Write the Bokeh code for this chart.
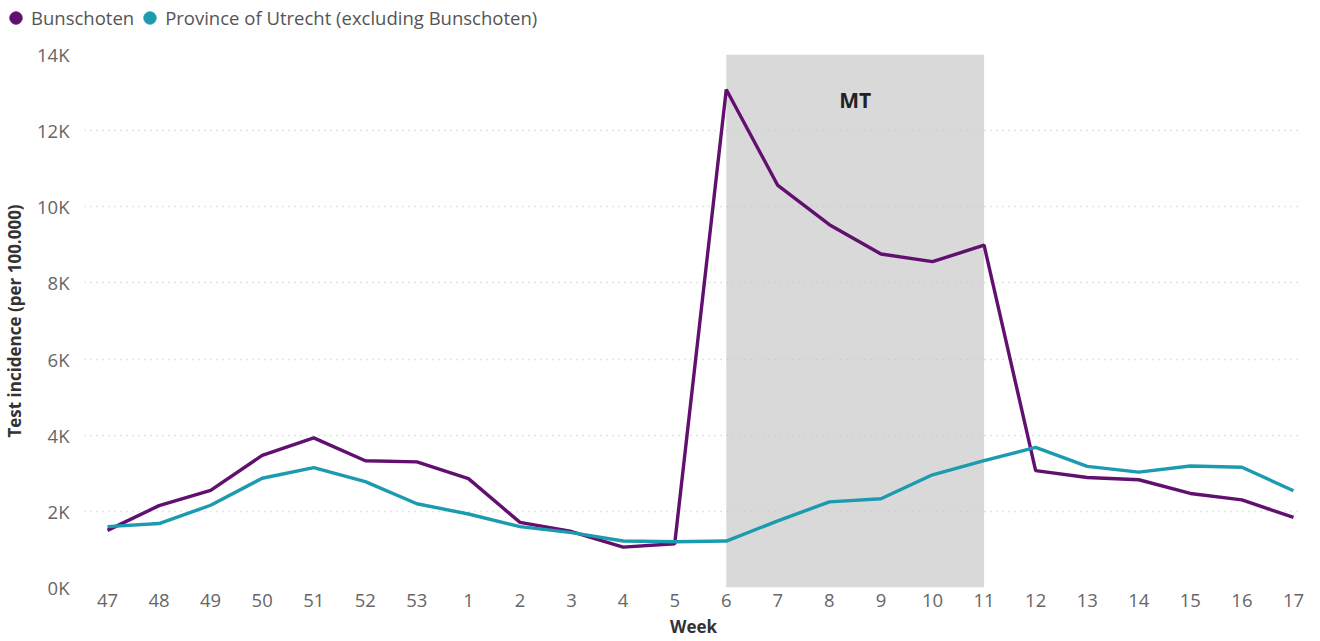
from bokeh.plotting import figure
from bokeh.models import (Range1d, Legend, LegendItem, Label, FixedTicker,
                          ColumnDataSource, CustomJSTickFormatter)
from bokeh.embed import file_html
from bokeh.resources import INLINE

weeks = ["47", "48", "49", "50", "51", "52", "53", "1", "2", "3", "4", "5",
         "6", "7", "8", "9", "10", "11", "12", "13", "14", "15", "16", "17"]
bunschoten = [1500, 2150, 2550, 3470, 3930, 3330, 3300, 2860, 1710, 1470, 1060, 1150,
              13080, 10560, 9530, 8760, 8560, 8990, 3070, 2890, 2830, 2470, 2300, 1840]
utrecht = [1600, 1680, 2160, 2870, 3150, 2780, 2200, 1930, 1600, 1440, 1220, 1200,
           1220, 1750, 2250, 2330, 2960, 3330, 3680, 3180, 3030, 3190, 3160, 2540]
series_names = ["Bunschoten", "Province of Utrecht (excluding Bunschoten)"]
mt_start, mt_end = "6", "11"
mt_label = "MT"
y_ticks = [0, 2000, 4000, 6000, 8000, 10000, 12000, 14000]

FONT = "Open Sans"
PURPLE = "#62106f"
TEAL = "#1c9bb0"

W = 1304
LEG_H = 36
H = 605
BL, BR, BT, BB = 78, 2, 18, 54

idx = list(range(len(weeks)))
x0 = weeks.index(mt_start)
x1 = weeks.index(mt_end)
src = ColumnDataSource(dict(x=idx, b=bunschoten, u=utrecht))

# ---- legend strip (separate root, so its frame is not aligned to the chart) ----
lg = figure(width=W, height=LEG_H, output_backend="svg", toolbar_location=None,
            x_range=Range1d(0, 1), y_range=Range1d(0, 1),
            x_axis_location=None, y_axis_location=None,
            min_border=0, outline_line_color=None)
lg.grid.visible = False
lb = lg.scatter("x", "b", source=src, size=11, color=PURPLE, marker="circle", visible=False)
lu = lg.scatter("x", "u", source=src, size=11, color=TEAL, marker="circle", visible=False)
legend = Legend(items=[LegendItem(label=series_names[0], renderers=[lb]),
                       LegendItem(label=series_names[1], renderers=[lu])],
                orientation="horizontal", location=(0, 3),
                label_text_font=FONT, label_text_font_size="18.5px", label_text_color="#555555",
                glyph_width=31, glyph_height=31, label_standoff=-6, spacing=0,
                padding=0, margin=0, border_line_color=None, background_fill_alpha=0,
                inactive_fill_alpha=0, label_height=20)
lg.add_layout(legend, "center")

# ---- main chart ----
p = figure(width=W, height=H, output_backend="svg", toolbar_location=None,
           x_range=Range1d(-0.446, 23.175), y_range=Range1d(0, 14000),
           min_border_left=BL, min_border_right=BR, min_border_top=BT,
           min_border_bottom=BB, outline_line_color=None)

p.quad(left=[x0], right=[x1], bottom=[y_ticks[0]], top=[y_ticks[-1]],
       fill_color="#d9d9d9", line_color=None, level="image")

p.line("x", "b", source=src, color=PURPLE, line_width=3.4)
p.line("x", "u", source=src, color=TEAL, line_width=3.4)

p.add_layout(Label(x=(x0 + x1) / 2, y=12800, text=mt_label,
                   text_font=FONT, text_font_size="21px", text_font_style="bold",
                   text_color="#222222", text_align="center", text_baseline="middle"))

p.xaxis.ticker = FixedTicker(ticks=idx)
p.xaxis.major_label_overrides = {i: w for i, w in zip(idx, weeks)}
p.yaxis.ticker = FixedTicker(ticks=y_ticks)
p.yaxis.formatter = CustomJSTickFormatter(code="return (tick/1000).toFixed(0) + 'K';")
for ax in (p.xaxis[0], p.yaxis[0]):
    ax.axis_line_color = None
    ax.major_tick_line_color = None
    ax.minor_tick_line_color = None
    ax.major_label_text_font = FONT
    ax.major_label_text_font_size = "18.5px"
    ax.major_label_text_color = "#666666"
    ax.axis_label_text_font = FONT
    ax.axis_label_text_font_size = "17px"
    ax.axis_label_text_font_style = "bold"
    ax.axis_label_text_color = "#333333"
p.xaxis.axis_label = "Week"
p.yaxis.axis_label = "Test incidence (per 100.000)"
p.xaxis.major_label_standoff = 0
p.xaxis.axis_label_standoff = 5
p.yaxis.major_label_standoff = 9
p.yaxis.axis_label_standoff = 8

p.xgrid.grid_line_color = None
p.ygrid.ticker = FixedTicker(ticks=y_ticks)
p.ygrid.grid_line_color = "#c8c8c8"
p.ygrid.grid_line_dash = "1 5"
p.ygrid.grid_line_width = 1.5

open("out.html", "w").write(file_html([lg, p], INLINE))
